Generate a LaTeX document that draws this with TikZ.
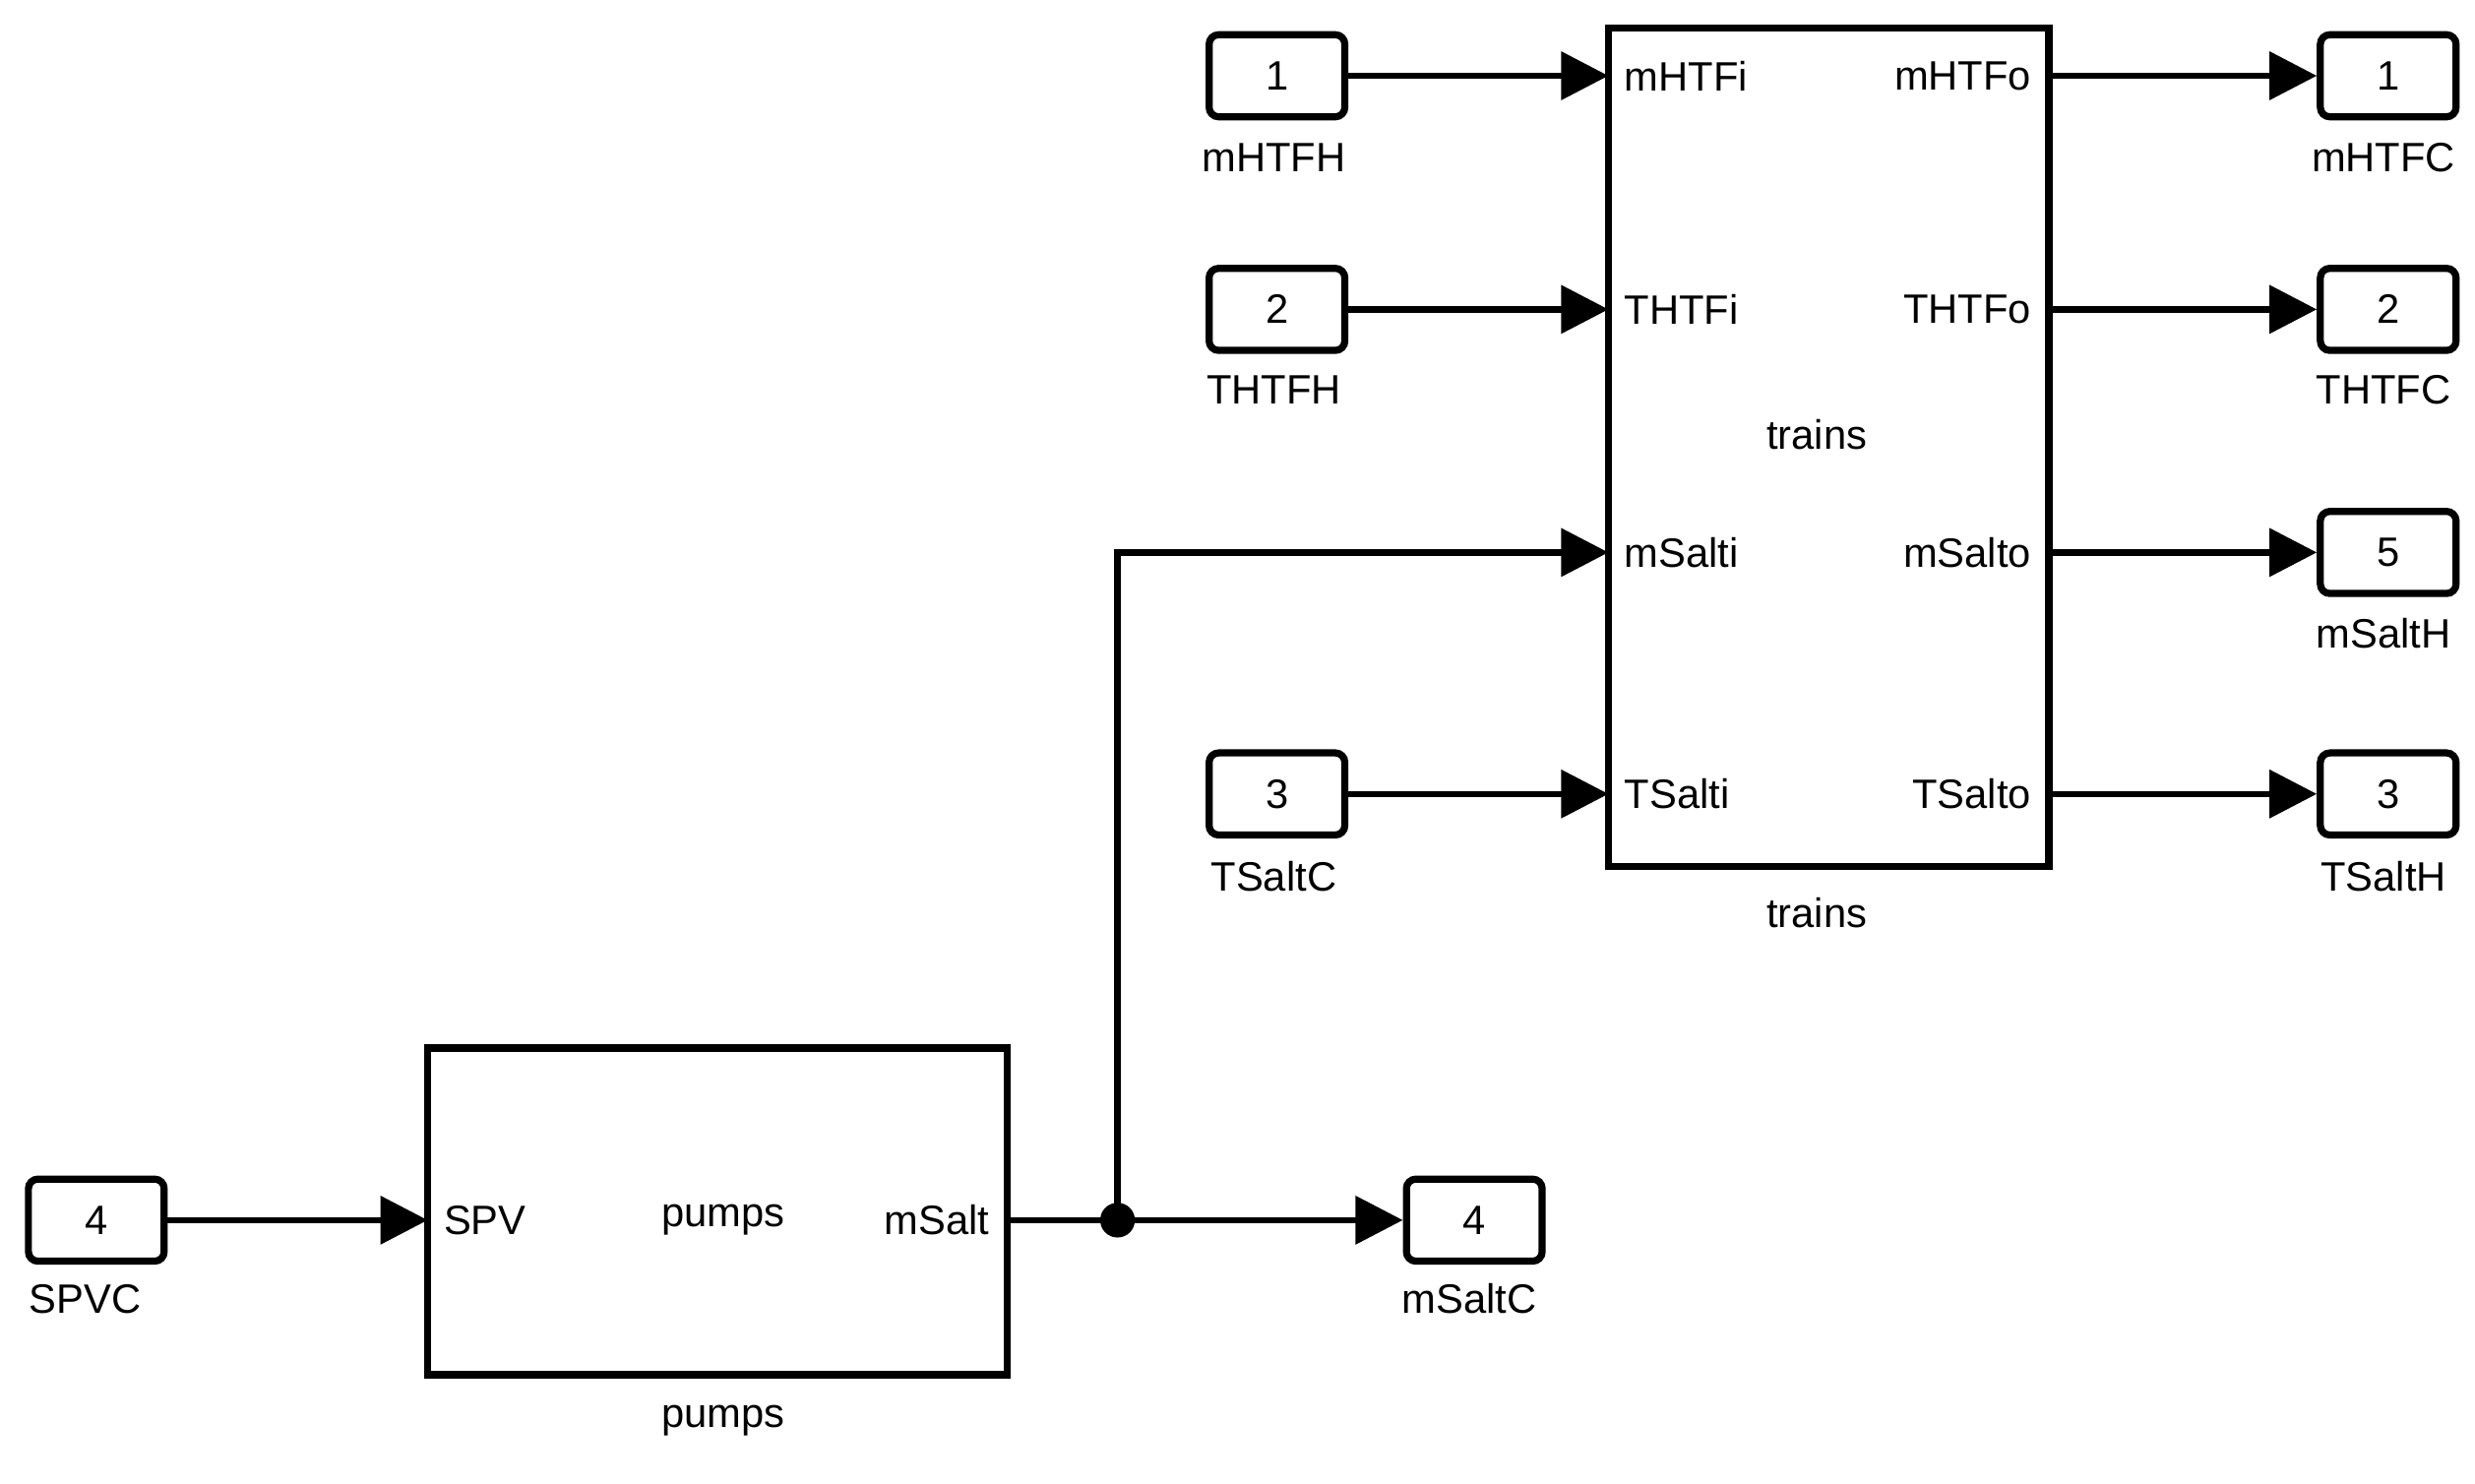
\documentclass[tikz,border=0pt]{standalone}
\usepackage{fontspec}
\setmainfont{Liberation Sans}
\usetikzlibrary{arrows.meta}
\begin{document}
\begin{tikzpicture}[x=1pt,y=-1pt,
  every node/.style={font=\fontsize{26}{30}\selectfont},
  port/.style={draw,line width=4.5pt,rounded corners=6pt,minimum width=86pt,minimum height=52pt,inner sep=0pt},
  blk/.style={draw,line width=4.5pt},
  wire/.style={line width=4pt,-{Triangle[length=30pt,width=30pt]}},
  lbl/.style={inner sep=0pt}]
\useasboundingbox (0,0) rectangle (1568,940);
\draw[blk] (1019,18) rectangle (1298,549);
\draw[blk] (271,664) rectangle (638,871);
\node[lbl] at (1151,275) {trains};
\node[lbl] at (1151,578) {trains};
\node[lbl] at (458,773) {pumps};
\node[lbl] at (458,900) {pumps};
% trains ports
\foreach \n/\y/\i/\o in {a/48/mHTFi/mHTFo,b/196/THTFi/THTFo,c/350/mSalti/mSalto,d/503/TSalti/TSalto}{
  \coordinate (ti\n) at (1019,\y);
  \coordinate (to\n) at (1298,\y);
  \node[lbl,anchor=west] at (1029,\y) {\i};
  \node[lbl,anchor=east] at (1287,\y) {\o};
}
\coordinate (pin) at (271,773);
\coordinate (pout) at (638,773);
\node[lbl,anchor=west] at (281,773) {SPV};
\node[lbl,anchor=east] at (627,773) {mSalt};
% inports
\node[port] (i1) at (809,48) {1}; \node[lbl] at (807,100) {mHTFH};
\node[port] (i2) at (809,196) {2}; \node[lbl] at (807,247) {THTFH};
\node[port] (i3) at (809,503) {3}; \node[lbl] at (807,555) {TSaltC};
\node[port] (i4) at (61,773) {4}; \node[lbl] at (54,823) {SPVC};
% outports
\node[port] (o1) at (1513,48) {1}; \node[lbl] at (1510,100) {mHTFC};
\node[port] (o2) at (1513,196) {2}; \node[lbl] at (1510,247) {THTFC};
\node[port] (o5) at (1513,350) {5}; \node[lbl] at (1510,401) {mSaltH};
\node[port] (o3) at (1513,503) {3}; \node[lbl] at (1510,555) {TSaltH};
\node[port] (o4) at (934,773) {4}; \node[lbl] at (931,823) {mSaltC};
% wires
\draw[wire] (i1) -- (tia);
\draw[wire] (i2) -- (tib);
\draw[wire] (i3) -- (tid);
\draw[wire] (toa) -- (o1);
\draw[wire] (tob) -- (o2);
\draw[wire] (toc) -- (o5);
\draw[wire] (tod) -- (o3);
\draw[wire] (i4) -- (pin);
\coordinate (j) at (708,773);
\draw[wire] (pout) -- (o4);
\draw[wire] (j) |- (tic);
\fill (j) circle (11pt);
\end{tikzpicture}
\end{document}
